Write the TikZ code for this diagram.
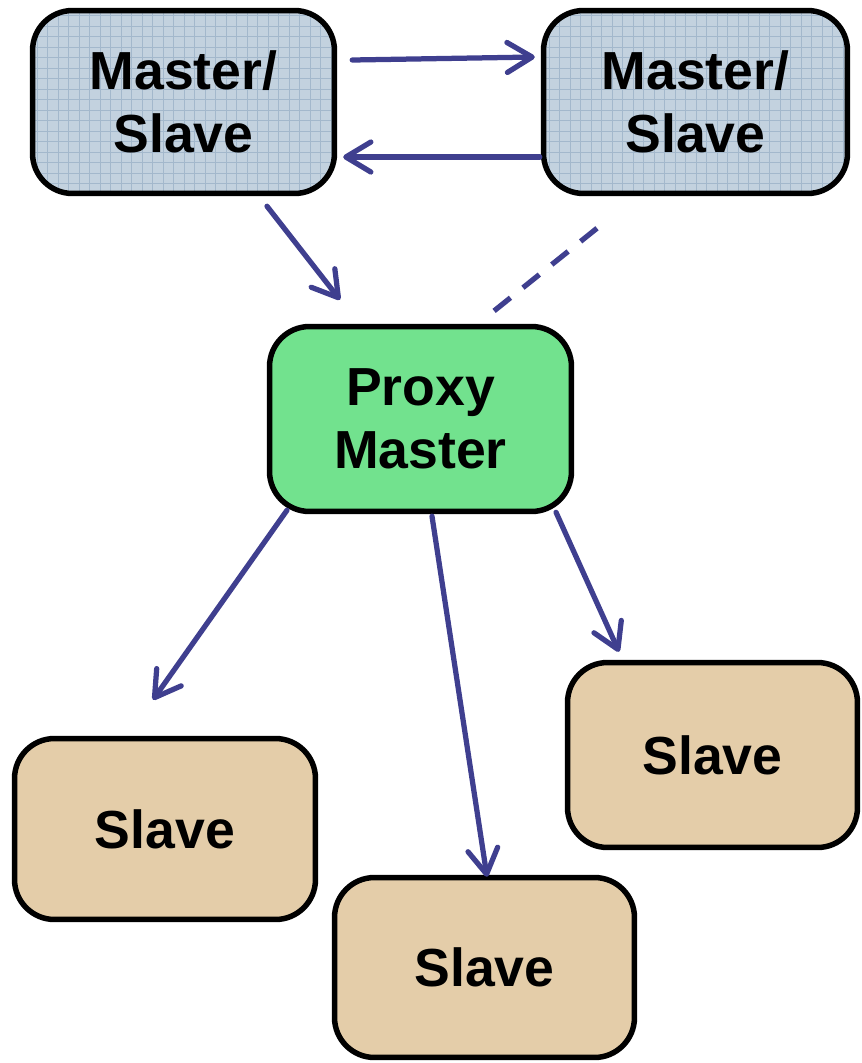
\documentclass[tikz,border=0pt]{standalone}
\usepackage{fontspec}
\setmainfont{Liberation Sans}
\usetikzlibrary{arrows.meta,calc}
\definecolor{msfill}{HTML}{C3D2DF}
\definecolor{msgrid}{HTML}{A3B8CC}
\definecolor{proxyfill}{HTML}{72E28E}
\definecolor{slavefill}{HTML}{E4CDA9}
\definecolor{arrowcol}{HTML}{3F3F8F}
\tikzset{
  box/.style={draw=black, line width=0.11cm, rounded corners=0.8cm, inner sep=0pt,
    align=center, font=\fontsize{30.5}{35.5}\selectfont\bfseries},
  msbox/.style={box, fill=msfill,
    path picture={\draw[msgrid, line width=0.5pt, step=0.21cm]
      (path picture bounding box.south west) grid (path picture bounding box.north east);}},
  proxybox/.style={box, fill=proxyfill},
  slavebox/.style={box, fill=slavefill},
  conn/.style={draw=arrowcol, line width=0.105cm, line cap=round,
    -{Straight Barb[length=0.5cm, width=0.6cm, round]}},
  dconn/.style={draw=arrowcol, line width=0.105cm, dash pattern=on 0.42cm off 0.32cm}
}
\begin{document}
\begin{tikzpicture}[x=0.02cm, y=-0.02cm]
\useasboundingbox (0,0) rectangle (862,1063);
\node[msbox, minimum width=6.04cm, minimum height=3.66cm] (ms1) at (183.5,102) {Master/\\Slave};
\node[msbox, minimum width=6.08cm, minimum height=3.66cm] (ms2) at (695.5,102) {Master/\\Slave};
\node[proxybox, minimum width=6.04cm, minimum height=3.70cm] (px) at (420.5,419) {Proxy\\Master};
\node[slavebox, minimum width=6.02cm, minimum height=3.62cm] (s1) at (165,829) {Slave};
\node[slavebox, minimum width=6.00cm, minimum height=3.60cm] (s2) at (484.5,967.5) {Slave};
\node[slavebox, minimum width=5.80cm, minimum height=3.70cm] (s3) at (712.5,755) {Slave};
\draw[conn] ($(ms1.east)+(15,-42)$) -- ($(ms2.west)+(-6,-45)$);
\draw[conn] ($(ms2.west)+(-1,55)$) -- ($(ms1.east)+(6,55)$);
\draw[conn] ($(ms1.south)+(83.5,10)$) -- ($(px.north)+(-80.5,-24)$);
\draw[dconn] ($(ms2.south)+(-98.5,32)$) -- ($(px.north)+(72.5,-12)$);
\draw[conn] ($(px.south)+(-133.5,-4)$) -- ($(s1.north)+(-12,-36)$);
\draw[conn] ($(px.south)+(11.5,2)$) -- ($(s2.north)+(2.5,2)$);
\draw[conn] ($(px.south)+(135.5,-2)$) -- ($(s3.north)+(-93.5,-8)$);
\end{tikzpicture}
\end{document}
